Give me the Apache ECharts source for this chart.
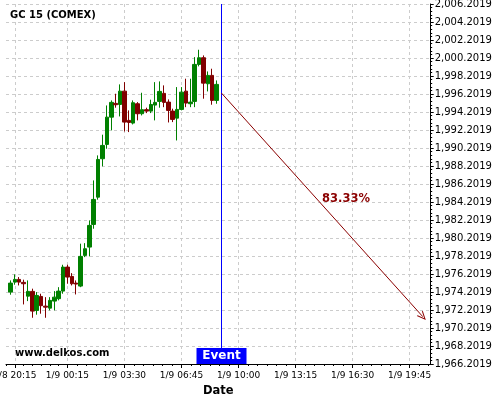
<!DOCTYPE html>
<html><head><meta charset="utf-8">
<script src="https://cdn.jsdelivr.net/npm/echarts@6/dist/echarts.min.js"></script>
<style>html,body{margin:0;padding:0;background:#fff}#c{width:500px;height:400px}</style>
</head><body><div id="c"></div>
<script>
const chartTitle = 'GC 15 (COMEX)';
const watermark = 'www.delkos.com';
const barIndex = [0,1,2,3,4,5,6,7,8,9,10,11,12,13,14,15,16,17,18,19,20,21,22,23,24,25,26,27,28,29,30,31,32,33,34,35,36,37,38,39,40,41,42,43,44,45,46,47];
const opens  = [1974.19,1975.30,1975.60,1975.27,1973.74,1974.27,1972.16,1973.71,1972.63,1972.41,1973.19,1973.46,1974.30,1976.97,1975.93,1975.19,1974.86,1978.27,1979.19,1981.71,1984.74,1989.01,1990.60,1993.63,1995.16,1995.04,1996.52,1993.27,1992.97,1995.12,1994.01,1994.46,1994.30,1994.97,1995.38,1996.27,1995.30,1994.30,1993.52,1994.49,1996.52,1995.12,1995.38,1999.49,2000.23,1997.34,1998.27,1995.49];
const closes = [1975.19,1975.60,1975.30,1975.12,1974.27,1972.08,1973.82,1972.68,1972.52,1973.27,1973.63,1974.30,1976.97,1975.86,1975.12,1975.08,1978.16,1979.01,1981.60,1984.49,1988.93,1990.49,1993.63,1995.27,1995.01,1996.52,1993.08,1993.04,1995.23,1994.01,1994.46,1994.30,1995.04,1995.27,1996.49,1995.27,1994.38,1993.38,1994.49,1996.41,1995.19,1995.30,1999.49,2000.23,1997.41,1998.27,1995.49,1997.27];
const lows   = [1973.90,1975.01,1974.93,1972.82,1973.19,1971.34,1971.68,1971.79,1971.34,1972.16,1972.16,1973.27,1974.01,1975.12,1974.93,1973.93,1974.74,1978.08,1978.16,1981.23,1984.46,1988.16,1990.12,1992.16,1994.68,1993.71,1992.04,1991.97,1992.82,1993.27,1993.82,1994.08,1994.08,1993.27,1994.68,1994.74,1993.04,1993.08,1991.04,1994.38,1994.74,1994.74,1994.74,1999.27,1995.68,1996.49,1995.01,1995.12];
const highs  = [1975.49,1976.16,1975.86,1975.57,1975.49,1974.57,1974.19,1974.01,1973.63,1973.63,1974.30,1974.74,1977.23,1977.23,1976.30,1975.49,1979.57,1979.63,1982.16,1986.60,1989.38,1991.68,1994.93,1995.49,1996.23,1997.27,1997.52,1994.38,1995.49,1995.30,1996.34,1994.68,1995.57,1997.52,1997.60,1997.16,1995.60,1994.57,1996.97,1996.97,1997.90,1997.90,2000.30,2001.12,2000.49,1998.71,1999.01,1997.71];
const xTickIndex  = [1,13,26,39,52,65,78,91];
const xTickLabels = ['1/8 20:15','1/9 00:15','1/9 03:30','1/9 06:45','1/9 10:00','1/9 13:15','1/9 16:30','1/9 19:45'];
const xMinorIndex = [-1,3,5,7,9,11,15.17,17.33,19.5,21.67,23.83,28.17,30.33,32.5,34.67,36.83,41.17,43.33,45.5,47.67,49.83,54.17,56.33,58.5,60.67,62.83,67.17,69.33,71.5,73.67,75.83,80.17,82.33,84.5,86.67,88.83,93.17,95.33];
const yTicks = [1966.2019,1968.2019,1970.2019,1972.2019,1974.2019,1976.2019,1978.2019,1980.2019,1982.2019,1984.2019,1986.2019,1988.2019,1990.2019,1992.2019,1994.2019,1996.2019,1998.2019,2000.2019,2002.2019,2004.2019,2006.2019];
const eventIndex = 48.12;
const eventText = 'Event';
const arrowStart = [48.12, 1996.3];
const arrowEnd = [94, 1971.46];
const arrowText = '83.33%';
const arrowTextPos = [76.5, 1984.5];

const yMinor = [];
for (let i = 0; i < yTicks.length - 1; i++) {
  for (let k = 1; k < 5; k++) yMinor.push(+(yTicks[i] + (yTicks[i+1]-yTicks[i]) * k / 5).toFixed(4));
}
const FF = 'DejaVu Sans';
const xMin = -1, xMax = 95.8;
const yMin = yTicks[0], yMax = yTicks[yTicks.length-1];
const fmtY = v => Number(v).toLocaleString('en-US', {minimumFractionDigits: 4, maximumFractionDigits: 4});
const candleData = barIndex.map((x, i) => [x, opens[i], closes[i], lows[i], highs[i]]);
const chevron = 'path://M5,0 L10,10 L8.6,10 L5,2.6 L1.4,10 L0,10 Z';

const chart = echarts.init(document.getElementById('c'), null, {renderer: 'canvas'});
chart.setOption({
  animation: false,
  backgroundColor: '#fff',
  textStyle: {fontFamily: FF},
  title: {text: chartTitle, left: 10, top: 10, padding: 0,
    textStyle: {fontSize: 10, fontWeight: 'bold', color: '#000', fontFamily: FF}},
  graphic: [{type: 'text', left: 15, top: 348, silent: true,
    style: {text: watermark, font: 'bold 10px "DejaVu Sans"', fill: '#000'}}],
  grid: {left: 6, right: 69.3, top: 4, bottom: 36, containLabel: false, outerBoundsMode: 'none'},
  xAxis: [{
    type: 'value', min: xMin, max: xMax, position: 'bottom',
    axisLine: {show: true, onZero: false, lineStyle: {color: '#000', width: 1}},
    axisTick: {show: true, customValues: xTickIndex, length: 4, lineStyle: {color: '#000'}},
    axisLabel: {show: true, customValues: xTickIndex, formatter: v => xTickLabels[xTickIndex.indexOf(v)] || '',
      fontSize: 9, color: '#000', margin: 7, fontFamily: FF},
    splitLine: {show: true, lineStyle: {color: '#cccccc', type: [3, 3], width: 1}},
    name: 'Date', nameLocation: 'middle', nameGap: 19,
    nameTextStyle: {fontWeight: 'bold', fontSize: 11.5, color: '#000', fontFamily: FF}
  }, {
    type: 'value', min: xMin, max: xMax, position: 'bottom',
    axisLine: {show: false, onZero: false},
    axisTick: {show: true, customValues: xMinorIndex, length: 2, lineStyle: {color: '#000'}},
    axisLabel: {show: false}, splitLine: {show: false}
  }],
  yAxis: [{
    type: 'value', min: yMin, max: yMax, position: 'right',
    axisLine: {show: true, onZero: false, lineStyle: {color: '#000', width: 1}},
    axisTick: {show: true, customValues: yTicks, length: 3, lineStyle: {color: '#000'}},
    axisLabel: {show: true, customValues: yTicks, formatter: fmtY, fontSize: 10, color: '#000', margin: 4, fontFamily: FF},
    splitLine: {show: true, lineStyle: {color: '#cccccc', type: [3, 3], width: 1}}
  }, {
    type: 'value', min: yMin, max: yMax, position: 'right',
    axisLine: {show: false, onZero: false},
    axisTick: {show: true, customValues: yMinor, length: 1.5, lineStyle: {color: '#000'}},
    axisLabel: {show: false}, splitLine: {show: false}
  }],
  series: [{
    type: 'candlestick', xAxisIndex: 0, yAxisIndex: 0,
    data: candleData, barWidth: 4,
    itemStyle: {color: '#008000', color0: '#800000', borderColor: '#008000', borderColor0: '#800000', borderWidth: 1},
    markLine: {
      silent: true, animation: false, symbol: ['none', 'none'], label: {show: false},
      lineStyle: {color: '#8b0000', width: 1, type: 'solid', opacity: 1},
      data: [
        [{coord: arrowStart, lineStyle: {color: '#8b0000', width: 1, type: 'solid'}},
         {coord: arrowEnd, symbol: chevron, symbolSize: [8, 9]}]
      ]
    },
    markPoint: {
      silent: true, animation: false,
      data: [
        {coord: [eventIndex, yMin], symbol: 'rect', symbolSize: [50, 16], symbolOffset: [0, -8],
          itemStyle: {color: '#0000ff'},
          label: {show: true, position: 'inside', formatter: eventText, color: '#fff', fontSize: 12, fontWeight: 'bold', fontFamily: FF}},
        {coord: arrowTextPos, symbol: 'rect', symbolSize: 1, itemStyle: {color: 'rgba(0,0,0,0)'},
          label: {show: true, position: 'inside', formatter: arrowText, color: '#8b0000', fontSize: 11.5, fontWeight: 'bold', fontFamily: FF}}
      ]
    }
  }, {
    type: 'line', xAxisIndex: 0, yAxisIndex: 0, silent: true,
    data: [[eventIndex, yMin], [eventIndex, yMax]],
    symbol: 'none', lineStyle: {color: '#0000ff', width: 1, type: 'solid'}, itemStyle: {color: '#0000ff'}, z: 3
  }]
});
</script></body></html>
